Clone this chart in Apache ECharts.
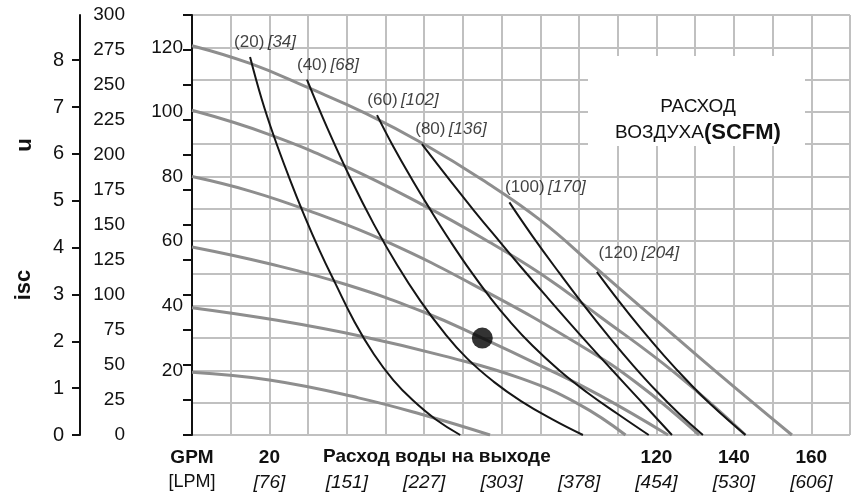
<!DOCTYPE html>
<html><head><meta charset="utf-8">
<script src="https://cdn.jsdelivr.net/npm/echarts@6/dist/echarts.min.js"></script>
<style>html,body{margin:0;padding:0;background:#fff}#c{width:857px;height:497px}</style>
</head><body><div id="c"></div>
<script>
// ---- tick labels ----
const gpmTicks = [0, 20, 120, 140, 160];
const gpmLabels = ['GPM', '20', '120', '140', '160'];
const lpmTicks = [0, 20, 40, 60, 80, 100, 120, 140, 160];
const lpmLabels = ['[LPM]', '[76]', '[151]', '[227]', '[303]', '[378]', '[454]', '[530]', '[606]'];
const psiLabelTicks = [20, 40, 60, 80, 100, 120];
const barTicks = [0, 1, 2, 3, 4, 5, 6, 7, 8];

// ---- pressure curves (GPM, PSI) ----
const press120 = [[0,120.5],[15,115],[30,107.5],[45,99.5],[60,90],[75,79],[90,66.5],[105,51],[120,35.5],[135,20],[155,0]];
const press100 = [[0,100.5],[20,93],[40,83],[60,71],[75,61],[90,50],[105,37],[125,19],[143,0]];
const press80  = [[0,80],[15,75.5],[30,69.5],[50,60],[75,45],[100,28],[115,16],[131,0]];
const press60  = [[0,58.2],[20,53],[40,46.5],[60,38],[75,30],[90,21.5],[105,12.5],[123,0]];
const press40  = [[0,39.4],[22,35.5],[44,30.5],[65,24.5],[85,17.5],[100,9.5],[112,0]];
const press20  = [[0,19.4],[20,17],[43,11.5],[61,5.8],[77,0]];

// ---- air consumption curves (GPM, PSI) ----
const air20  = [[15,117],[18,104],[21,93],[25,80],[29,68],[33,57],[37,47],[42,35],[47,25],[52,17],[57,10.8],[63,4.8],[69.3,0]];
const air40  = [[29.7,110],[35,94.9],[41,79.3],[47,65.2],[53,52.6],[59,41.5],[65,31.9],[71,23.8],[78,16.45],[85,10.5],[93,4.9],[101,0]];
const air60  = [[47.8,99],[52,89.3],[57,78.8],[62,68.9],[67,59.5],[72,50.7],[77,42.6],[82,35.3],[88,27.6],[95,19.9],[102,13.25],[110,6.5],[118,0]];
const air80  = [[59.4,90],[66.7,78.7],[73,69.25],[79.6,59.7],[85,52],[92,42.3],[100,31.4],[108,20.8],[116,10.4],[124,0]];
const air100 = [[82,72],[88,61.5],[95,50],[101,40.5],[108,30],[114,21.5],[120,13.6],[126,6.4],[132,0]];
const air120 = [[104.6,50.5],[110,41.9],[116,32.9],[122,24.5],[128,16.7],[134,9.5],[143,0]];

const airScfm = ['(20)', '(40)', '(60)', '(80)', '(100)', '(120)'];
const airM3h  = ['[34]', '[68]', '[102]', '[136]', '[170]', '[204]'];
const operatingPoint = [[75, 30]];

const pressCurves = [press120, press100, press80, press60, press40, press20];
const airCurves = [air20, air40, air60, air80, air100, air120];
const labelOffsets = [[15,-15],[21,-14],[26,-15],[29,-15],[36,-15],[42,-19]];

const FONT = "'Liberation Sans Narrow','Liberation Sans',Arial,sans-serif";
const FONT2 = "'Liberation Sans',Arial,sans-serif";
const GRID_COLOR = '#c0c0c0';

const series = [];
pressCurves.forEach(d => series.push({
  type: 'line', data: d, smooth: 0.45, symbol: 'none', z: 2,
  lineStyle: { color: '#8e8e8e', width: 3 }
}));
airCurves.forEach(d => series.push({
  type: 'line', data: d, smooth: 0.45, symbol: 'none', z: 3,
  lineStyle: { color: '#151515', width: 2 }
}));
series.push({
  type: 'scatter', z: 4, symbolSize: 1, itemStyle: { color: 'rgba(0,0,0,0)' },
  data: airCurves.map((d, i) => ({
    value: d[0],
    label: {
      show: true, position: 'inside', offset: labelOffsets[i],
      formatter: '{a|' + airScfm[i] + '} {b|' + airM3h[i] + '}',
      rich: {
        a: { fontFamily: FONT2, fontSize: 17, color: '#111' },
        b: { fontFamily: FONT2, fontSize: 17, fontStyle: 'italic', color: '#111' }
      }
    }
  }))
});
series.push({
  type: 'scatter', z: 5, data: operatingPoint, symbolSize: 21,
  itemStyle: { color: '#000' }
});

const chart = echarts.init(document.getElementById('c'), null, { renderer: 'canvas' });
chart.setOption({
  animation: false,
  backgroundColor: '#fff',
  grid: { left: 192, right: 7, top: 15, bottom: 62, containLabel: false },
  xAxis: [{
    type: 'value', min: 0, max: 170, interval: 10, position: 'bottom',
    axisLine: { show: false }, axisTick: { show: false },
    splitLine: { show: true, lineStyle: { color: GRID_COLOR, width: 2, opacity: 1 } },
    axisLabel: {
      margin: 13, interval: 0, showMinLabel: true, showMaxLabel: true,
      formatter: v => { const k = gpmTicks.indexOf(v); return k >= 0 ? gpmLabels[k] : ''; },
      fontFamily: FONT, fontWeight: 'bold', fontSize: 19, color: '#111'
    }
  }, {
    type: 'value', min: 0, max: 170, interval: 10, position: 'bottom',
    axisLine: { show: false }, axisTick: { show: false }, splitLine: { show: false },
    axisLabel: {
      margin: 38, interval: 0, showMinLabel: true,
      formatter: v => { const k = lpmTicks.indexOf(v); if (k < 0) return ''; const t = lpmLabels[k]; return v === 0 ? '{n|' + t + '}' : '{i|' + t + '}'; },
      rich: {
        n: { fontFamily: FONT2, fontSize: 18, color: '#111' },
        i: { fontFamily: FONT, fontSize: 19, fontStyle: 'italic', color: '#111' }
      }
    }
  }],
  yAxis: [{
    type: 'value', min: 0, max: 130, interval: 10, position: 'left',
    axisLine: { show: false },
    axisTick: { show: false, length: 0, lineStyle: { color: 'rgba(0,0,0,0)' } },
    splitLine: { show: true, lineStyle: { color: GRID_COLOR, width: 2, opacity: 1 } },
    axisLabel: {
      margin: 9, formatter: v => (psiLabelTicks.indexOf(v) >= 0 ? String(v) : ''),
      fontFamily: FONT2, fontSize: 19, color: '#111'
    }
  }, {
    type: 'value', min: 0, max: 300, interval: 25, position: 'left', offset: 50,
    axisLine: { show: true, lineStyle: { color: '#111', width: 2 } },
    axisTick: { show: true, length: 9, lineStyle: { color: '#111', width: 2 } },
    splitLine: { show: false },
    axisLabel: { margin: 17, fontFamily: FONT2, fontSize: 19, color: '#111' }
  }, {
    type: 'value', min: 0, max: 8.9655, interval: 1, position: 'left', offset: 112,
    axisLine: { show: true, lineStyle: { color: '#111', width: 2 } },
    axisTick: { show: true, length: 8, customValues: barTicks, lineStyle: { color: '#111', width: 2 } },
    splitLine: { show: false },
    axisLabel: { customValues: barTicks, margin: 16, fontFamily: FONT2, fontSize: 20, color: '#111' }
  }],
  graphic: [
    { type: 'rect', z: 10, shape: { x: 588, y: 56, width: 217, height: 90 }, style: { fill: '#fff' } },
    { type: 'text', z: 11, x: 698, y: 107, style: { text: 'РАСХОД', fontFamily: FONT, fontSize: 19, fill: '#111', align: 'center', verticalAlign: 'middle' } },
    { type: 'text', z: 11, x: 698, y: 133, style: {
      text: '{a|ВОЗДУХА}{b|(SCFM)}', align: 'center', verticalAlign: 'middle',
      rich: { a: { fontFamily: FONT, fontSize: 19, fill: '#111' }, b: { fontFamily: FONT2, fontSize: 22, fontWeight: 'bold', fill: '#111' } }
    } },
    { type: 'text', z: 11, x: 323, y: 457, style: { text: 'Расход воды на выходе', fontFamily: FONT, fontSize: 19, fontWeight: 'bold', fill: '#111', align: 'left', verticalAlign: 'middle' } },
    { type: 'text', z: 11, x: 25, y: 145, rotation: Math.PI / 2, style: { text: 'u', fontFamily: FONT, fontSize: 22, fontWeight: 'bold', fill: '#111', align: 'center', verticalAlign: 'middle' } },
    { type: 'text', z: 11, x: 24, y: 285, rotation: Math.PI / 2, style: { text: 'isc', fontFamily: FONT, fontSize: 22, fontWeight: 'bold', fill: '#111', align: 'center', verticalAlign: 'middle' } }
  ],
  series: series
});
</script></body></html>
